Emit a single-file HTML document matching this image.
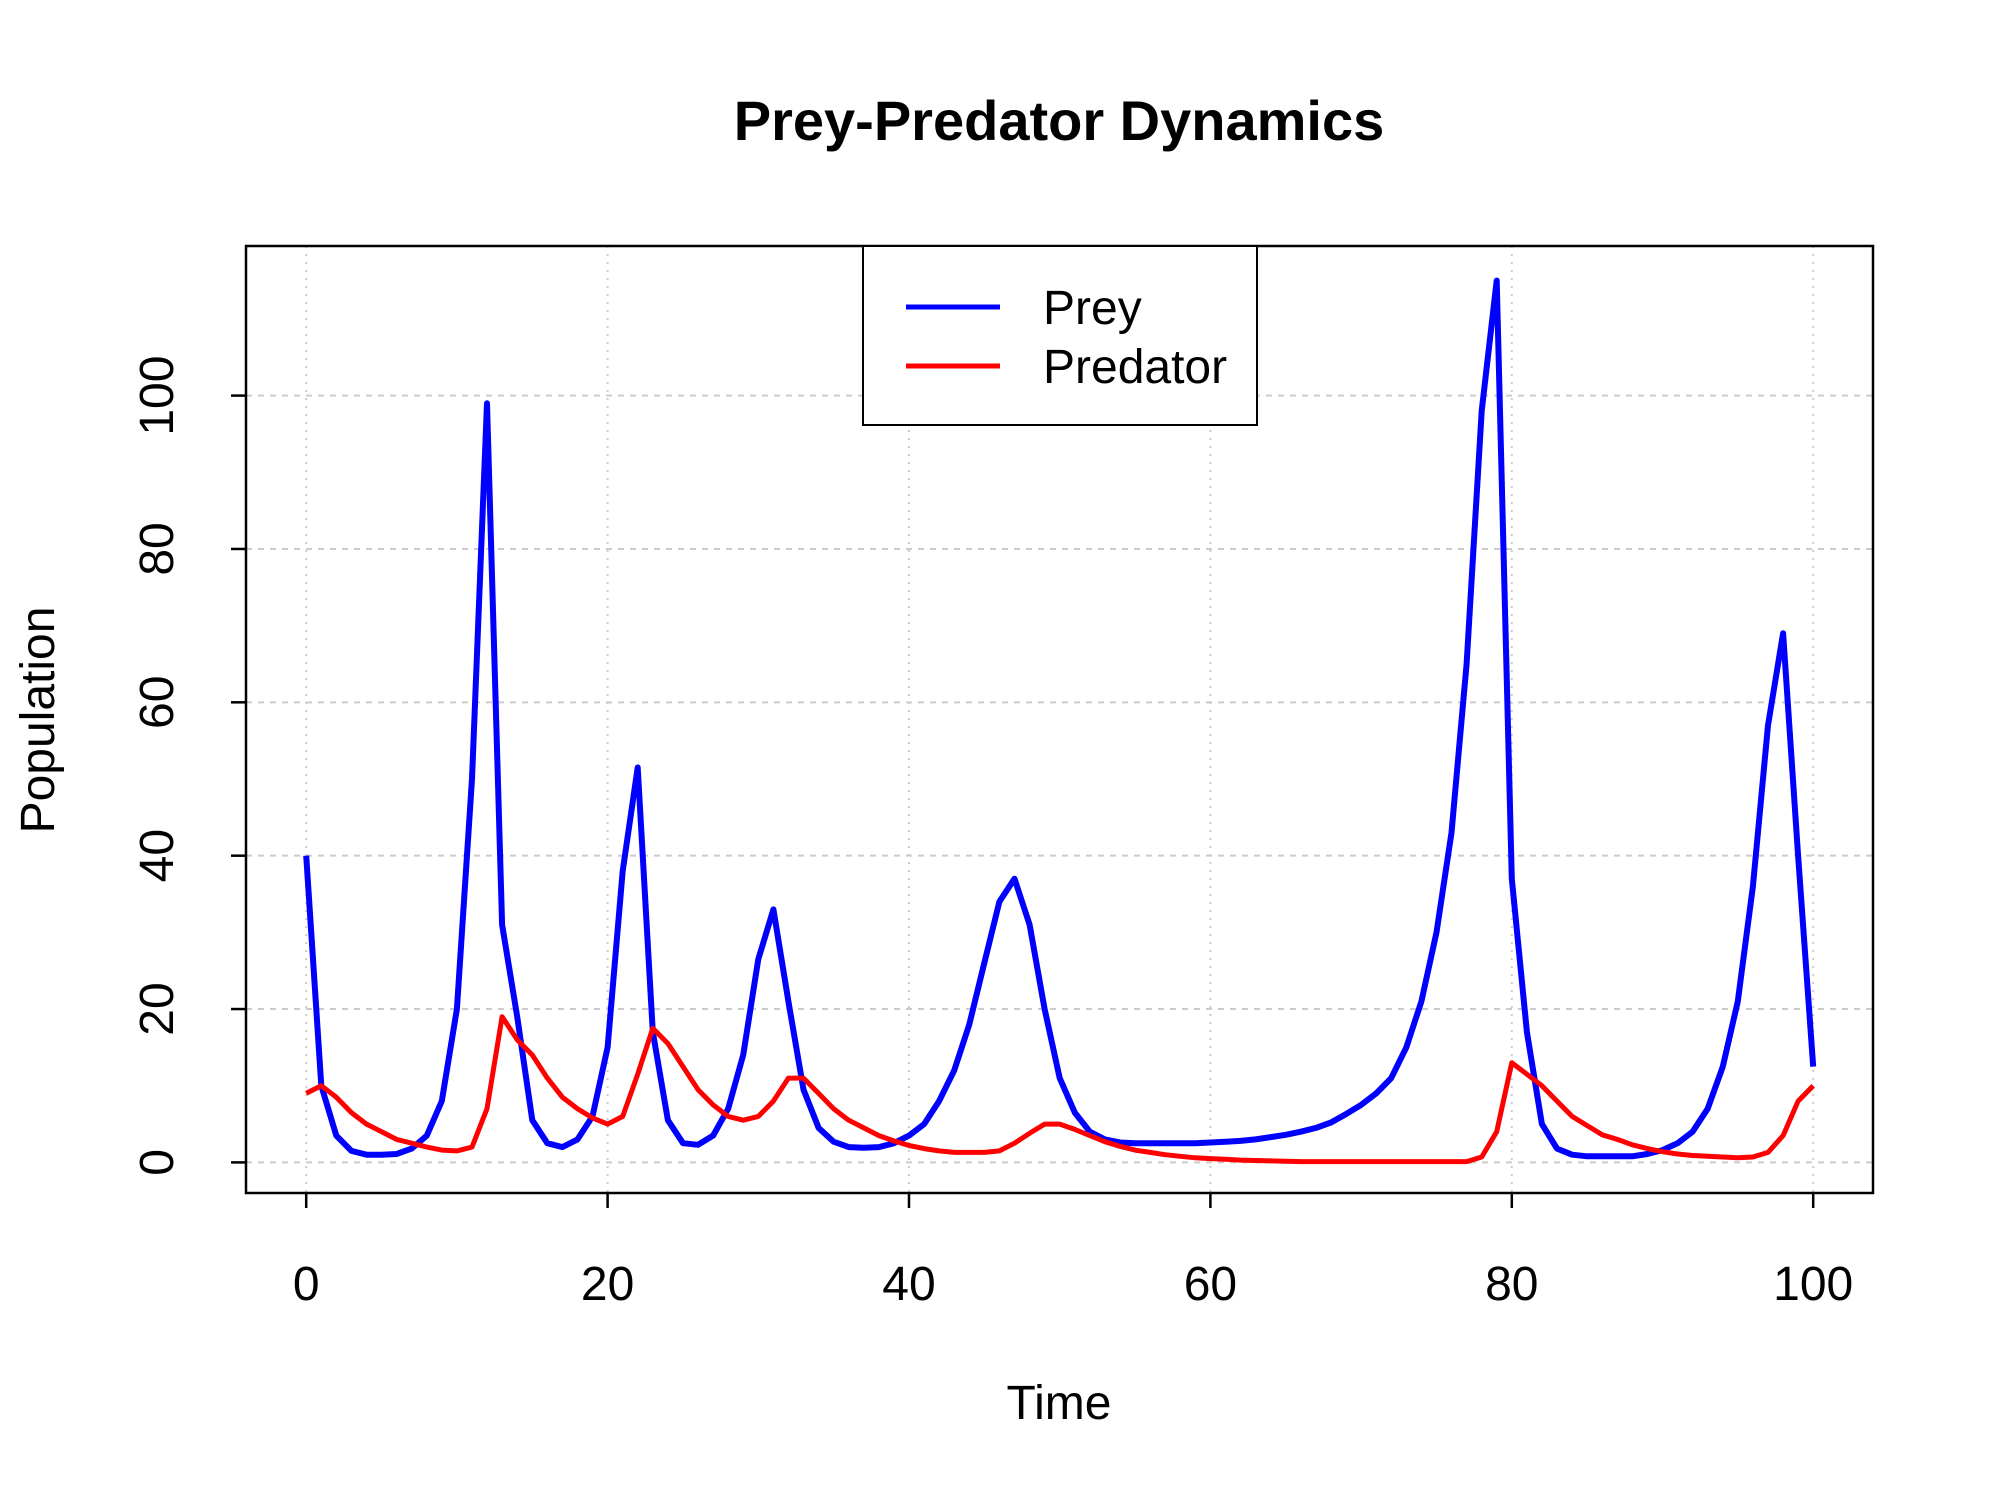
<!DOCTYPE html>
<html><head><meta charset="utf-8"><style>
html,body{margin:0;padding:0;background:#fff;}
svg{display:block;font-family:"Liberation Sans",Arial,sans-serif;}
</style></head><body>
<svg id="chart" width="2000" height="1500" viewBox="0 0 2000 1500">
<text x="1059" y="140" text-anchor="middle" font-size="56" font-weight="bold">Prey-Predator Dynamics</text>
<g id="grid"></g>
<g id="series"></g>
<g id="axes"></g>
<rect x="246" y="246" width="1627" height="947" fill="none" stroke="#000" stroke-width="2.5"/>
<text x="1059" y="1419" text-anchor="middle" font-size="48">Time</text>
<text transform="translate(54,720) rotate(-90)" text-anchor="middle" font-size="48">Population</text>
<g>
<rect x="863" y="246" width="394" height="179" fill="#fff" stroke="#000" stroke-width="2"/>
<line x1="906" y1="307" x2="1000" y2="307" stroke="#0000ff" stroke-width="5"/>
<text x="1043" y="324" font-size="48">Prey</text>
<line x1="906" y1="366" x2="1000" y2="366" stroke="#ff0000" stroke-width="5"/>
<text x="1043" y="383" font-size="48">Predator</text>
</g>
</svg>
<script>
const xTicks=[0,20,40,60,80,100];
const yTicks=[0,20,40,60,80,100];
const prey=[40,10,3.5,1.5,1,1,1.1,1.8,3.5,8,20,50,99,31,19,5.5,2.5,2,3,6,15,38,51.5,17,5.5,2.5,2.3,3.5,7,14,26.5,33,21,9.5,4.5,2.7,2,1.9,2,2.5,3.5,5,8,12,18,26,34,37,31,20,11,6.5,4,3,2.6,2.5,2.5,2.5,2.5,2.5,2.6,2.7,2.8,3,3.3,3.6,4,4.5,5.2,6.3,7.5,9,11,15,21,30,43,65,98,115,37,17,5,1.8,1,0.8,0.8,0.8,0.8,1.1,1.6,2.5,4,7,12.5,21,36,57,69,40,12.5];
const predator=[9,10,8.5,6.5,5,4,3,2.5,2,1.6,1.5,2,7,19,16,14,11,8.5,7,5.8,5,6,11.5,17.5,15.5,12.5,9.5,7.5,6,5.5,6,8,11,11,9,7,5.5,4.5,3.5,2.8,2.2,1.8,1.5,1.3,1.3,1.3,1.5,2.5,3.8,5,5,4.3,3.5,2.7,2.1,1.6,1.3,1,0.8,0.6,0.5,0.4,0.3,0.25,0.2,0.15,0.1,0.1,0.1,0.1,0.1,0.1,0.1,0.1,0.1,0.1,0.1,0.1,0.7,4,13,11.5,10,8,6,4.8,3.6,3,2.3,1.8,1.4,1.1,0.9,0.8,0.7,0.6,0.7,1.3,3.5,8,10];
const NS="http://www.w3.org/2000/svg";
function sx(t){return 306.2+(t/100)*(1813.2-306.2);}
function sy(v){return 1162.4-(v/100)*(1162.4-395.6);}
function mk(tag,attrs,parent){const e=document.createElementNS(NS,tag);for(const k in attrs)e.setAttribute(k,attrs[k]);parent.appendChild(e);return e;}
const grid=document.getElementById('grid'),axes=document.getElementById('axes'),series=document.getElementById('series');
xTicks.forEach(t=>{
 const g=mk('line',{x1:sx(t),x2:sx(t),y1:246,y2:1193,stroke:'#cccccc','stroke-width':2,'stroke-dasharray':'2 6'},grid);
 
 
 const tk=mk('line',{x1:sx(t),x2:sx(t),y1:1193,y2:1208,stroke:'#000','stroke-width':2.5},axes);
 
 
 const lb=mk('text',{x:sx(t),y:1300,'text-anchor':'middle','font-size':48},axes);
 lb.textContent=t;
 
 
});
yTicks.forEach(v=>{
 const g=mk('line',{x1:246,x2:1873,y1:sy(v),y2:sy(v),stroke:'#cccccc','stroke-width':2,'stroke-dasharray':'6 6'},grid);
 
 
 const tk=mk('line',{x1:231,x2:246,y1:sy(v),y2:sy(v),stroke:'#000','stroke-width':2.5},axes);
 
 
 const lb=mk('text',{transform:'translate(173,'+sy(v)+') rotate(-90)','text-anchor':'middle','font-size':48},axes);
 lb.textContent=v;
 
 
});
function line(arr,color,w,name){
 const d=arr.map((v,i)=>(i?'L':'M')+sx(i).toFixed(1)+','+sy(v).toFixed(1)).join(' ');
 const p=mk('path',{d:d,fill:'none',stroke:color,'stroke-width':w,'stroke-linejoin':'round'},series);
 
 
}
line(prey,'#0000ff',6,'prey-line');
line(predator,'#ff0000',5,'predator-line');
</script>
</body></html>
